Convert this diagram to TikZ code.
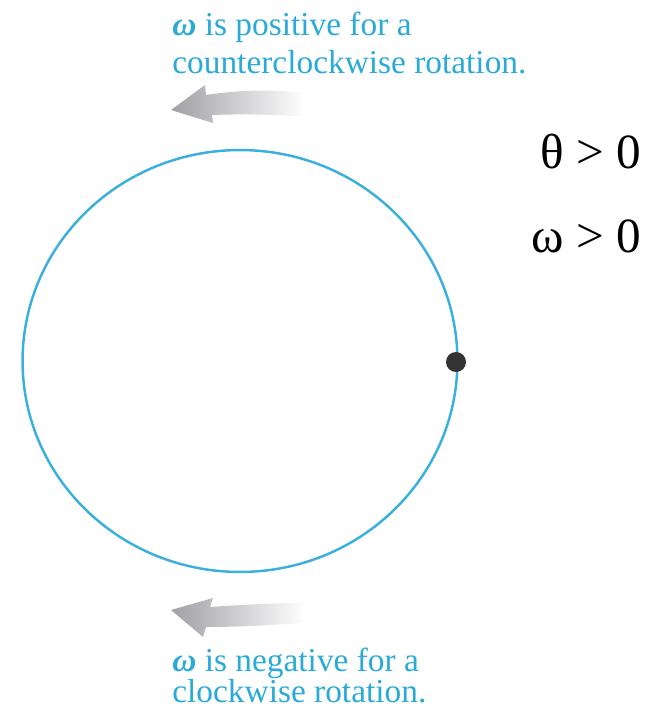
\documentclass[tikz,border=0pt]{standalone}
\usepackage{fontspec}
\setmainfont{Liberation Serif}
\usepackage{xcolor}
\usepackage{tikz}
\usetikzlibrary{positioning}
\definecolor{circleblue}{HTML}{3BB0DF}
\definecolor{noteblue}{HTML}{2AAAD8}
\definecolor{arrowgray}{HTML}{A0A0A5}
\definecolor{dotgray}{HTML}{333333}
\newcommand{\om}{{\bfseries\itshape ω}}

\begin{document}
\begin{tikzpicture}[x=0.02cm, y=-0.02cm,
    note/.style={noteblue, align=left, inner sep=0pt, anchor=north west,
        font=\fontsize{19}{21.5}\selectfont},
    sign/.style={inner sep=0pt, anchor=base east, font=\fontsize{28}{30}\selectfont},
    turnarrow/.style={left color=arrowgray, right color=white}]
    \useasboundingbox (0, 0) rectangle (658, 714);

    % Circle and the particle on it
    \draw[circleblue, line width=1.4pt] (240, 361) ellipse [x radius=4.35cm, y radius=4.22cm];
    \node[circle, fill=dotgray, inner sep=0pt, minimum size=0.4cm] (dot) at (456, 362) {};

    % Counterclockwise (top)
    \node[note] (pos) at (172, 12) {\om{} is positive for a\\counterclockwise rotation.};
    \shade[turnarrow] (171, 110) -- (205, 85) -- (206, 95)
        .. controls (240, 90) and (270, 89) .. (305, 93) -- (305, 117)
        .. controls (270, 114) and (240, 114) .. (212, 115) -- (213, 123) -- cycle;

    % Clockwise (bottom)
    \shade[turnarrow] (171, 610) -- (213, 598) -- (210, 607)
        .. controls (240, 605) and (270, 603) .. (305, 603) -- (305, 623)
        .. controls (270, 625) and (240, 627) .. (206, 627) -- (203, 637) -- cycle;
    \node[note, font=\fontsize{19}{17.5}\selectfont] (neg) at (172, 648) {\om{} is negative for a\\clockwise rotation.};

    % Signs
    \node[sign] (theta) at (641, 168) {θ > 0};
    \node[sign, below=1.7cm of theta.base east, anchor=base east] (omega) {ω > 0};
\end{tikzpicture}
\end{document}
